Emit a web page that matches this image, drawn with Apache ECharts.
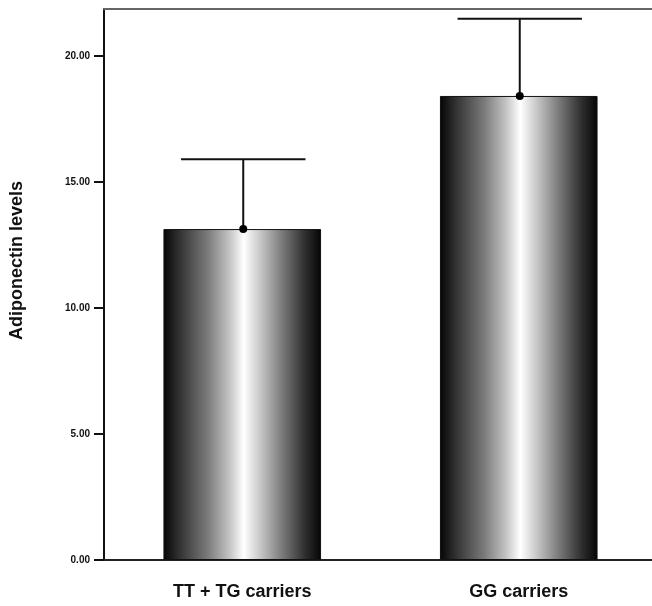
<!DOCTYPE html>
<html>
<head>
<meta charset="utf-8">
<script src="https://cdn.jsdelivr.net/npm/echarts@6/dist/echarts.min.js"></script>
<style>html,body{margin:0;padding:0;background:#fff;overflow:hidden}#c{width:660px;height:606px}</style>
</head>
<body>
<div id="c"></div>
<script>
var categories = ['TT + TG carriers', 'GG carriers'];
var meanValues = [13.13, 18.41];
var upperValues = [15.9, 21.47];
var yTicks = [0, 5, 10, 15, 20];

var chart = echarts.init(document.getElementById('c'), null, {renderer: 'canvas'});

var barGradient = new echarts.graphic.LinearGradient(0, 0, 1, 0, [
  {offset: 0, color: '#050505'},
  {offset: 0.12, color: '#3a3a3a'},
  {offset: 0.28, color: '#7a7a7a'},
  {offset: 0.42, color: '#c4c4c4'},
  {offset: 0.51, color: '#ffffff'},
  {offset: 0.6, color: '#cfcfcf'},
  {offset: 0.75, color: '#7c7c7c'},
  {offset: 0.9, color: '#2e2e2e'},
  {offset: 1, color: '#050505'}
]);

var errData = categories.map(function (c, i) { return [i, meanValues[i], upperValues[i]]; });

chart.setOption({
  animation: false,
  backgroundColor: '#ffffff',
  grid: {left: 103, top: 9, width: 554, height: 551, containLabel: false},
  xAxis: [{
    type: 'category',
    data: categories,
    axisLine: {show: true, lineStyle: {color: '#222', width: 2}},
    axisTick: {show: false},
    axisLabel: {
      margin: 23,
      fontFamily: 'Liberation Sans, Arial, sans-serif',
      fontWeight: 'bold',
      fontSize: 18,
      color: '#111'
    }
  }, {
    type: 'category',
    position: 'top',
    data: categories,
    axisLine: {show: true, lineStyle: {color: '#666', width: 2}},
    axisTick: {show: false},
    axisLabel: {show: false}
  }],
  yAxis: {
    type: 'value',
    min: 0,
    max: 21.86,
    interval: 5,
    name: 'Adiponectin levels',
    nameLocation: 'middle',
    nameGap: 78,
    nameRotate: 90,
    nameTextStyle: {
      fontFamily: 'Liberation Sans, Arial, sans-serif',
      fontWeight: 'bold',
      fontSize: 18,
      color: '#111',
      padding: [0, 0, 0, 48]
    },
    axisLine: {show: true, lineStyle: {color: '#111', width: 2}},
    axisTick: {show: true, length: 10, customValues: yTicks, lineStyle: {color: '#111', width: 2}},
    splitLine: {show: false},
    axisLabel: {
      margin: 14,
      customValues: yTicks,
      fontFamily: 'Liberation Sans, Arial, sans-serif',
      fontWeight: 'bold',
      fontSize: 10,
      color: '#111',
      formatter: function (v) { return Number(v).toFixed(2); }
    }
  },
  series: [{
    type: 'bar',
    data: meanValues,
    barWidth: '57%',
    itemStyle: {color: barGradient, borderColor: '#111', borderWidth: 1}
  }, {
    type: 'custom',
    data: errData,
    z: 10,
    renderItem: function (params, api) {
      var x = api.value(0);
      var top = api.coord([x, api.value(2)]);
      var mid = api.coord([x, api.value(1)]);
      var bw = api.size([1, 0])[0];
      var half = bw * 0.225;
      var cx = top[0] + 1;
      return {
        type: 'group',
        children: [
          {type: 'line', shape: {x1: cx, y1: top[1], x2: cx, y2: mid[1]}, style: {stroke: '#111', lineWidth: 2}},
          {type: 'line', shape: {x1: cx - half, y1: top[1], x2: cx + half, y2: top[1]}, style: {stroke: '#111', lineWidth: 2}},
          {type: 'circle', shape: {cx: cx, cy: mid[1], r: 4}, style: {fill: '#000'}}
        ]
      };
    }
  }]
});
</script>
</body>
</html>
